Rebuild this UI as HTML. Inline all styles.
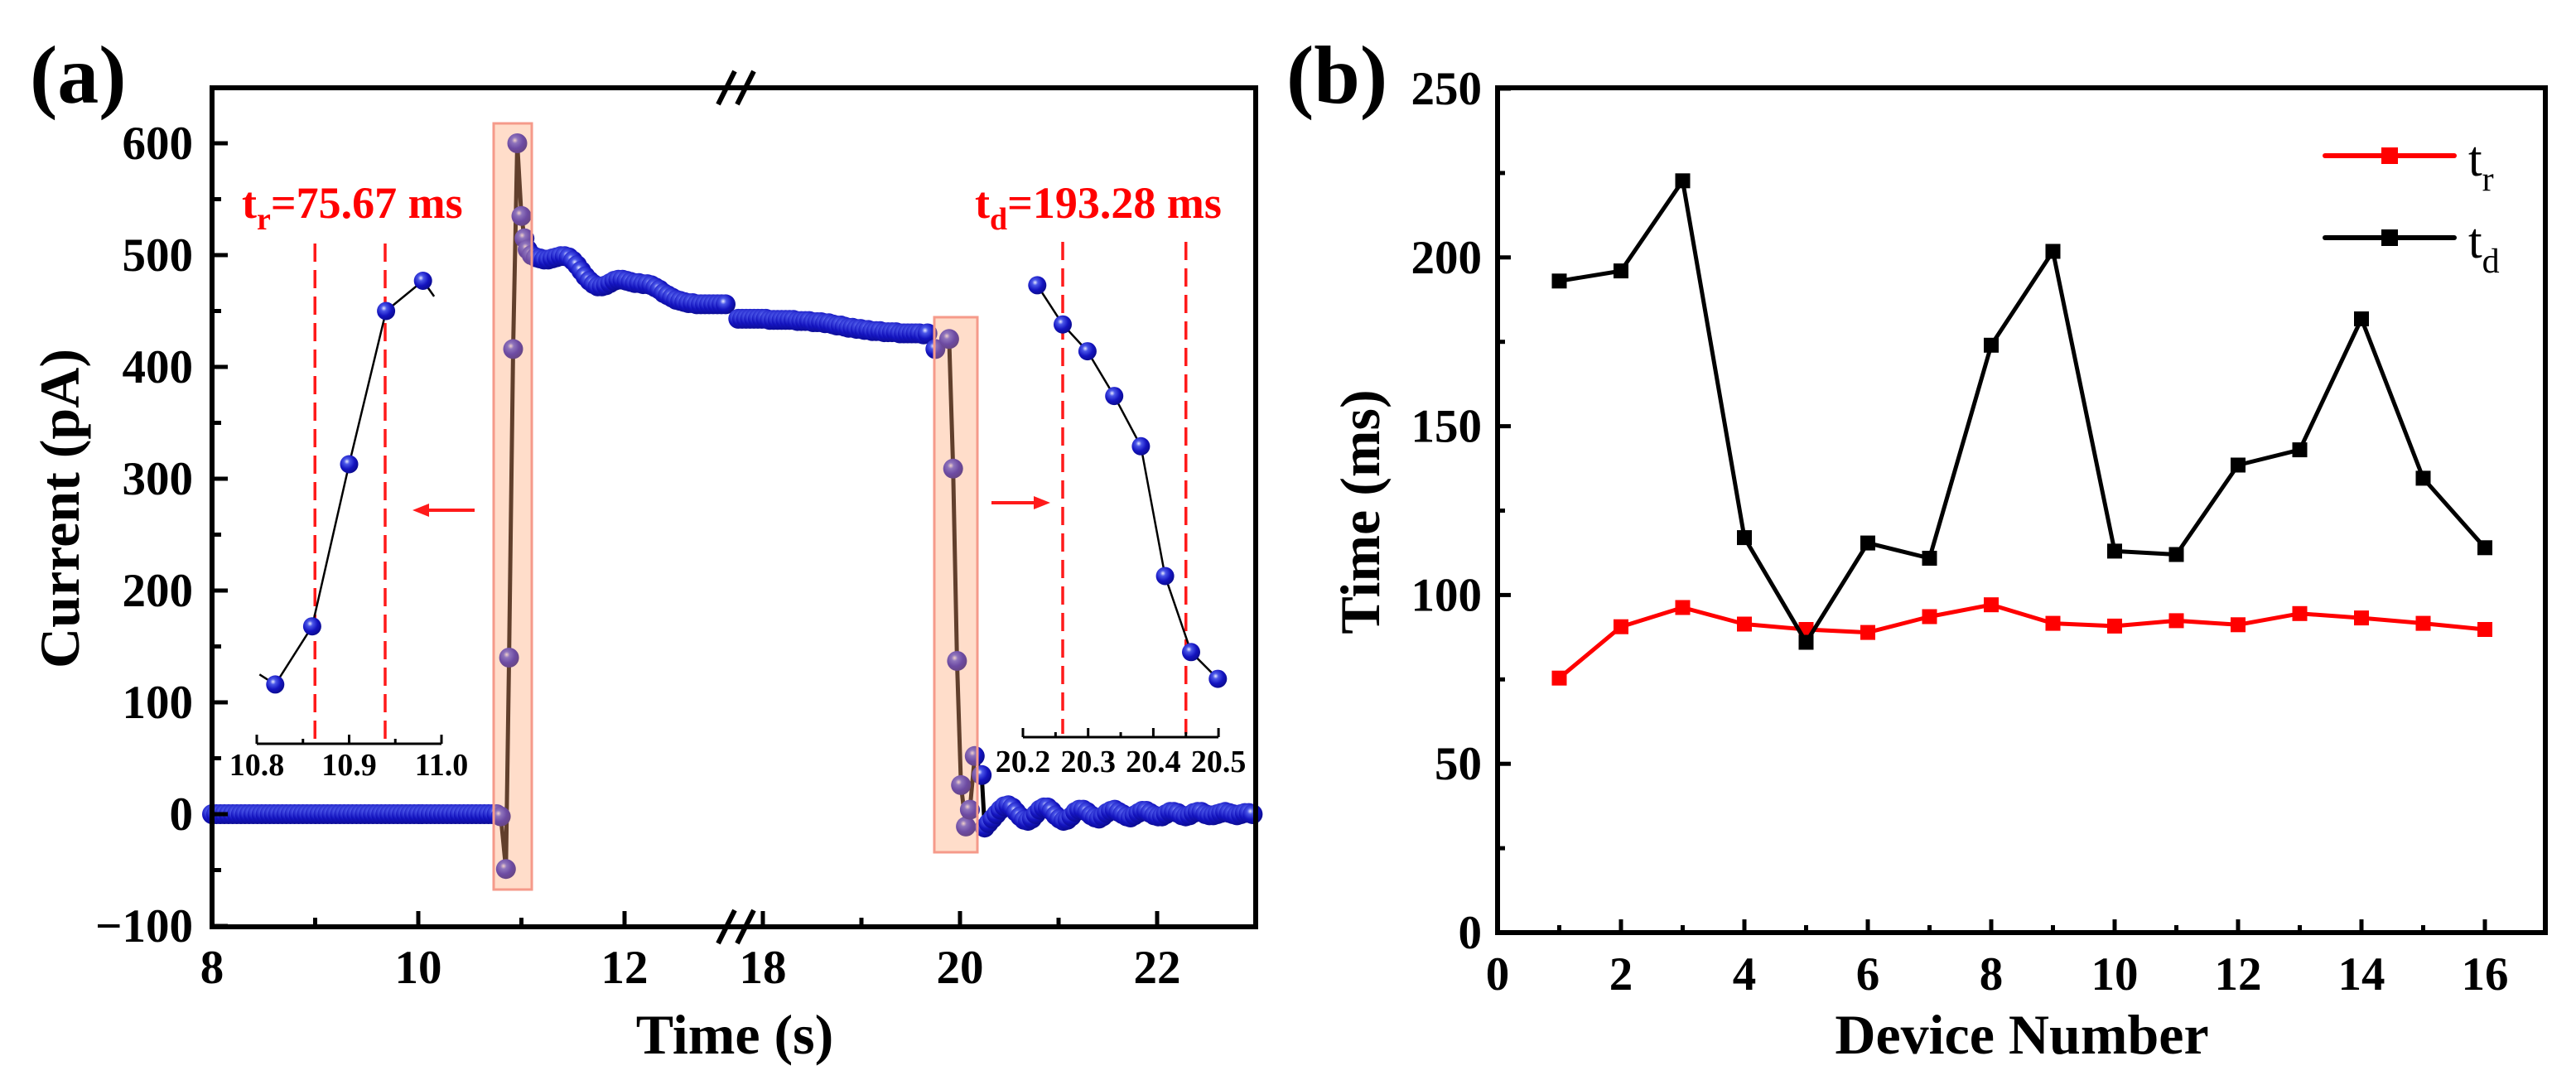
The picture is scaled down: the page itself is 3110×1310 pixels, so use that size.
<!DOCTYPE html>
<html><head><meta charset="utf-8">
<style>
html,body{margin:0;padding:0;background:#fff;}
svg{display:block;}
text{font-family:"Liberation Serif","Times New Roman",serif;}
</style></head>
<body>
<svg id="fig" xmlns="http://www.w3.org/2000/svg" width="3110" height="1310" viewBox="0 0 3110 1310">
<defs>
<radialGradient id="ball" cx="0.38" cy="0.35" r="0.7">
<stop offset="0" stop-color="#e8ecff"/>
<stop offset="0.22" stop-color="#4a56e8"/>
<stop offset="0.6" stop-color="#1414c0"/>
<stop offset="1" stop-color="#0a0a8a"/>
</radialGradient>
</defs>
<g id="pa"></g>
<g id="pb"></g>
</svg>
<script>
// ---------- Panel (a) data ----------
const baseline1Start = 8.0, baseline1Step = 0.04;
const baseline1Vals = [0,0,0,0,0,0,0,0,0,0,0,0,0,0,0,0,0,0,0,0,0,0,0,0,0,0,0,0,0,0,0,0,0,0,0,0,0,0,0,0,0,0,0,0,0,0,0,0,0,0,0,0,0,0,0,0,0,0,0,0,0,0,0,0,0,0,0,0,0,0];
const riseT = [10.80, 10.85, 10.88, 10.92, 10.96, 11.00, 11.03];
const riseV = [-2, -49, 140, 416, 600, 535, 515];
const decayStart = 11.06, decayStep = 0.04;
const decayVals = [505,500,498,497,496,496,497,498,499,499,498,495,491,486,481,477,474,472,472,473,475,477,478,478,477,476,475,475,474,474,473,471,469,466,464,462,460,459,458,457,457,456,456,456,456,456,456,456,456];
const plateauStart = 17.75, plateauStep = 0.04;
const plateauVals = [443,443,443,443,443,443,443,443,442,442,442,442,442,442,442,441,441,441,441,440,440,440,439,439,438,437,437,436,435,435,434,434,433,433,432,432,432,431,431,431,431,430,430,430,430,430,430,429,430];
const fallT = [19.75, 19.89, 19.93, 19.97, 20.01, 20.06, 20.10, 20.15, 20.22, 20.25];
const fallV = [416, 425, 309, 137, 26, -11, 4, 52, 35, -12];
const tailStart = 20.29, tailStep = 0.04;
const tailVals = [-8,-4,0,4,7,8,6,2,-2,-5,-6,-4,0,4,6,6,3,-1,-4,-6,-5,-2,2,4,4,2,-1,-3,-4,-2,1,3,4,2,0,-2,-3,-1,1,3,3,1,-1,-2,-2,0,2,2,1,-1,-2,-1,1,2,2,0,-1,-1,0,1,2,1,0,-1,0,1,1,0];
const insetRiseT = [10.82, 10.86, 10.90, 10.94, 10.98];
const insetRiseV = [116, 168, 313, 450, 477];
const insetFallT = [20.222, 20.261, 20.299, 20.340, 20.381, 20.418, 20.458, 20.499];
const insetFallV = [473, 438, 414, 374, 329, 213, 145, 121];
const aYTicks = [-100, 0, 100, 200, 300, 400, 500, 600];
const aXTicksLeft = [8, 10, 12];
const aXTicksRight = [18, 20, 22];

// ---------- Panel (b) data ----------
const devices = [1,2,3,4,5,6,7,8,9,10,11,12,13,14,15,16];
const tdVals = [193, 196, 222.7, 117, 86, 115.4, 110.9, 174, 201.8, 113, 112, 138.5, 143, 181.8, 134.6, 114];
const trVals = [75.4, 90.6, 96.3, 91.4, 89.8, 88.9, 93.6, 97.1, 91.6, 90.8, 92.4, 91.2, 94.5, 93.2, 91.6, 89.8];
const bYTicks = [0, 50, 100, 150, 200, 250];
const bXTicks = [0, 2, 4, 6, 8, 10, 12, 14, 16];

const NS = "http://www.w3.org/2000/svg";
function mk(parent, tag, attrs, txt){
  const e = document.createElementNS(NS, tag);
  for (const k in attrs) e.setAttribute(k, attrs[k]);
  if (txt !== undefined) e.textContent = txt;
  parent.appendChild(e);
  return e;
}
const pa = document.getElementById('pa');
const pb = document.getElementById('pb');

// axes functions panel a
function xa(t){ return t <= 13.1 ? 256 + (t - 8) * 124.5 : 921 + (t - 18) * 119; }
function ya(v){ return 983 - v * 1.35; }
function xiL(t){ return 310 + (t - 10.8) * 1115; }
function xiR(t){ return 1235 + (t - 20.2) * 787; }

// build main series
const mainT = [], mainV = [];
baseline1Vals.forEach((v,i)=>{ mainT.push(baseline1Start + i*baseline1Step); mainV.push(v); });
riseT.forEach((t,i)=>{ mainT.push(t); mainV.push(riseV[i]); });
decayVals.forEach((v,i)=>{ mainT.push(decayStart + i*decayStep); mainV.push(v); });
const leftCount = mainT.length;
plateauVals.forEach((v,i)=>{ mainT.push(plateauStart + i*plateauStep); mainV.push(v); });
fallT.forEach((t,i)=>{ mainT.push(t); mainV.push(fallV[i]); });
tailVals.forEach((v,i)=>{ mainT.push(tailStart + i*tailStep); mainV.push(v); });

// connecting lines
function polyPts(ts, vs, fx, fy){ return ts.map((t,i)=> fx(t).toFixed(1)+','+fy(vs[i]).toFixed(1)).join(' '); }
let l1 = mk(pa, 'polyline', {points: polyPts(mainT.slice(0,leftCount), mainV.slice(0,leftCount), xa, ya), fill:'none', stroke:'#000', 'stroke-width':5});


let l2 = mk(pa, 'polyline', {points: polyPts(mainT.slice(leftCount), mainV.slice(leftCount), xa, ya), fill:'none', stroke:'#000', 'stroke-width':5});



// dots
const dotsG = mk(pa, 'g', {});


mainT.forEach((t,i)=>{
  const c = mk(dotsG, 'circle', {cx: xa(t).toFixed(1), cy: ya(mainV[i]).toFixed(1), r: 12, fill:'url(#ball)'});
  
  
});

// highlight rectangles
let r1 = mk(pa, 'rect', {x:596, y:149, width:46, height:925, fill:'rgba(255,165,115,0.38)', stroke:'#f59a8a', 'stroke-width':3});


let r2 = mk(pa, 'rect', {x:1128, y:383, width:52, height:646, fill:'rgba(255,165,115,0.38)', stroke:'#f59a8a', 'stroke-width':3});



// frame a
let fa = mk(pa, 'rect', {x:256, y:106, width:1260, height:1013, fill:'none', stroke:'#000', 'stroke-width':6});


// break marks
[[877,106],[900,106],[877,1119],[900,1119]].forEach(p=>{
  const b = mk(pa, 'line', {x1:p[0]-10, y1:p[1]+20, x2:p[0]+10, y2:p[1]-20, stroke:'#000', 'stroke-width':6});
  
  
});
// y ticks a
aYTicks.forEach(v=>{
  const y = ya(v);
  const t = mk(pa, 'line', {x1:256, y1:y, x2:275, y2:y, stroke:'#000', 'stroke-width':5});
  
  
  const lb = mk(pa, 'text', {x:233, y:y+19, 'text-anchor':'end', 'font-size':57, 'font-weight':'bold'}, v < 0 ? '\u2212' + Math.abs(v) : String(v));
  
  
  if (v < 600){
    const m = mk(pa, 'line', {x1:256, y1:ya(v+50), x2:267, y2:ya(v+50), stroke:'#000', 'stroke-width':5});
    
    
  }
});
aXTicksLeft.concat(aXTicksRight).forEach(v=>{
  const x = xa(v);
  const t = mk(pa, 'line', {x1:x, y1:1119, x2:x, y2:1100, stroke:'#000', 'stroke-width':5});
  
  
  const lb = mk(pa, 'text', {x:x, y:1187, 'text-anchor':'middle', 'font-size':57, 'font-weight':'bold'}, String(v));
  
  
});
[9, 11, 19, 21].forEach(v=>{
  const m = mk(pa, 'line', {x1:xa(v), y1:1119, x2:xa(v), y2:1108, stroke:'#000', 'stroke-width':5});
  
  
});
let xt = mk(pa, 'text', {x:887, y:1272, 'text-anchor':'middle', 'font-size':68, 'font-weight':'bold'}, 'Time (s)');


let yt = mk(pa, 'text', {x:0, y:0, 'text-anchor':'middle', 'font-size':68, 'font-weight':'bold', transform:'translate(95,614) rotate(-90)'}, 'Current (pA)');


let la = mk(pa, 'text', {x:36, y:124, 'font-size':100, 'font-weight':'bold'}, '(a)');



// red annotations
function redLabel(x, y, sub, rest, name){
  const t = mk(pa, 'text', {x:x, y:y, 'font-size':54, 'font-weight':'bold', fill:'#ff0000'});
  
  
  const a = mk(t, 'tspan', {}, 't');
  const b = mk(t, 'tspan', {dy:14, 'font-size':38}, sub);
  const c = mk(t, 'tspan', {dy:-14}, rest);
}
redLabel(292, 263, 'r', '=75.67 ms', 'rise-time-label');
redLabel(1177, 263, 'd', '=193.28 ms', 'decay-time-label');

// insets
function inset(ts, vs, fx, x0, x1, labels, minors, dash, yAxis, lblY, pre, post, name){
  const g = mk(pa, 'g', {});
  
  
  dash.forEach(d=>{
    const l = mk(g, 'line', {x1:fx(d[0]), y1:d[1], x2:fx(d[0]), y2:d[2], stroke:'#ff1a1a', 'stroke-width':3.5, 'stroke-dasharray':'22 10'});
    
    
  });
  const ax = mk(g, 'line', {x1:x0, y1:yAxis, x2:x1, y2:yAxis, stroke:'#000', 'stroke-width':3});
  
  
  labels.forEach(v=>{
    const tk = mk(g, 'line', {x1:fx(v), y1:yAxis, x2:fx(v), y2:yAxis-11, stroke:'#000', 'stroke-width':3});
    
    
    const lb = mk(g, 'text', {x:fx(v), y:lblY, 'text-anchor':'middle', 'font-size':38, 'font-weight':'bold'}, v.toFixed(1));
    
    
  });
  minors.forEach(v=>{
    const tk = mk(g, 'line', {x1:fx(v), y1:yAxis, x2:fx(v), y2:yAxis-6, stroke:'#000', 'stroke-width':3});
    
    
  });
  const pts = [[fx(pre[0]), ya(pre[1])]].concat(ts.map((t,i)=>[fx(t), ya(vs[i])])).concat([[fx(post[0]), ya(post[1])]]);
  const pl = mk(g, 'polyline', {points: pts.map(p=>p[0].toFixed(1)+','+p[1].toFixed(1)).join(' '), fill:'none', stroke:'#000', 'stroke-width':2.5});
  
  
  ts.forEach((t,i)=>{
    const c = mk(g, 'circle', {cx:fx(t).toFixed(1), cy:ya(vs[i]).toFixed(1), r:11, fill:'url(#ball)'});
    
    
  });
}
inset(insetRiseT, insetRiseV, xiL, 310, 533, [10.8, 10.9, 11.0], [10.85, 10.95], [[10.863, 294, 892], [10.939, 294, 892]], 898, 936, [10.803, 125], [10.992, 463], 'inset-rise');
inset(insetFallT, insetFallV, xiR, 1235, 1471, [20.2, 20.3, 20.4, 20.5], [20.25, 20.35, 20.45], [[20.261, 292, 886], [20.45, 292, 886]], 890, 932, [20.222, 473], [20.499, 121], 'inset-fall');

// arrows
function arrow(x1, x2, y, name){
  const g = mk(pa, 'g', {});
  
  
  const dir = Math.sign(x2 - x1);
  mk(g, 'line', {x1:x1, y1:y, x2:x2 - dir*14, y2:y, stroke:'#ff1a1a', 'stroke-width':4});
  mk(g, 'polygon', {points: `${x2},${y} ${x2 - dir*20},${y-8} ${x2 - dir*20},${y+8}`, fill:'#ff1a1a'});
}
arrow(573, 498, 616, 'left-arrow');
arrow(1197, 1268, 607, 'right-arrow');

// ---------- Panel (b) ----------
function xb(n){ return 1808 + n * 74.5; }
function yb(v){ return 1126 - v * 4.076; }

function series(vals, color, name){
  const g = mk(pb, 'g', {});
  
  
  const pl = mk(g, 'polyline', {points: devices.map((d,i)=> xb(d).toFixed(1)+','+yb(vals[i]).toFixed(1)).join(' '), fill:'none', stroke:color, 'stroke-width':5, 'stroke-linejoin':'round'});
  
  
  devices.forEach((d,i)=>{
    const s = mk(g, 'rect', {x:(xb(d)-9).toFixed(1), y:(yb(vals[i])-9).toFixed(1), width:18, height:18, fill:color});
    
    
  });
}
series(trVals, '#ff0000', 'tr-series');
series(tdVals, '#000000', 'td-series');

let fb = mk(pb, 'rect', {x:1808, y:106, width:1265, height:1020, fill:'none', stroke:'#000', 'stroke-width':6});


bYTicks.forEach(v=>{
  const y = yb(v);
  const t = mk(pb, 'line', {x1:1808, y1:y, x2:1824, y2:y, stroke:'#000', 'stroke-width':5});
  
  
  const lb = mk(pb, 'text', {x:1789, y:y+19, 'text-anchor':'end', 'font-size':57, 'font-weight':'bold'}, String(v));
  
  
  if (v < 250){
    const m = mk(pb, 'line', {x1:1808, y1:yb(v+25), x2:1817, y2:yb(v+25), stroke:'#000', 'stroke-width':5});
    
    
  }
});
bXTicks.forEach(v=>{
  const x = xb(v);
  const t = mk(pb, 'line', {x1:x, y1:1126, x2:x, y2:1110, stroke:'#000', 'stroke-width':5});
  
  
  const lb = mk(pb, 'text', {x:x, y:1195, 'text-anchor':'middle', 'font-size':57, 'font-weight':'bold'}, String(v));
  
  
  if (v < 16){
    const m = mk(pb, 'line', {x1:xb(v+1), y1:1126, x2:xb(v+1), y2:1117, stroke:'#000', 'stroke-width':5});
    
    
  }
});
let xtb = mk(pb, 'text', {x:2441, y:1272, 'text-anchor':'middle', 'font-size':68, 'font-weight':'bold'}, 'Device Number');


let ytb = mk(pb, 'text', {x:0, y:0, 'text-anchor':'middle', 'font-size':68, 'font-weight':'bold', transform:'translate(1665,618) rotate(-90)'}, 'Time (ms)');


let lbb = mk(pb, 'text', {x:1553, y:124, 'font-size':100, 'font-weight':'bold'}, '(b)');



// legend
function legendEntry(y, color, sub, name){
  const g = mk(pb, 'g', {});
  
  
  mk(g, 'line', {x1:2807, y1:y, x2:2963, y2:y, stroke:color, 'stroke-width':6, 'stroke-linecap':'round'});
  mk(g, 'rect', {x:2875, y:y-10, width:20, height:20, fill:color});
  const t = mk(g, 'text', {x:2980, y:y+24, 'font-size':60}, 't');
  mk(t, 'tspan', {dy:18, 'font-size':42}, sub);
}
legendEntry(188, '#ff0000', 'r', 'legend-entry-tr');
legendEntry(287, '#000000', 'd', 'legend-entry-td');
</script>
</body></html>
